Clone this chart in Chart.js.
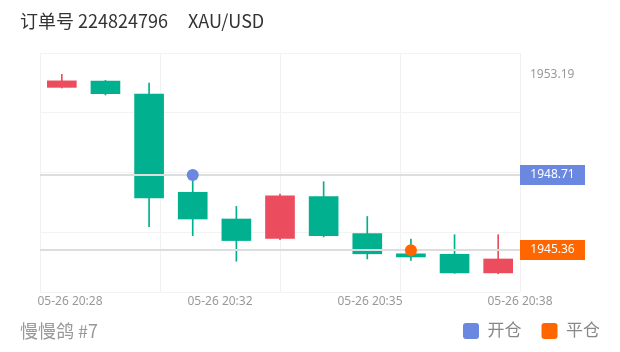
<!DOCTYPE html>
<html>
<head>
<meta charset="utf-8">
<script src="https://cdn.jsdelivr.net/npm/chart.js@4.4.1/dist/chart.umd.min.js"></script>
<style>
    html, body { margin: 0; padding: 0; background: #fff; }
    #wrap { position: relative; width: 620px; height: 352px; }
    #title { position: absolute; left: 20px; top: 7px; font: 18px "Noto Sans CJK SC", sans-serif; color: #333; }
    #title span { margin-left: 20px; }
    #foot { position: absolute; left: 20px; top: 317px; font: 18px "Noto Sans CJK SC", sans-serif; color: #999; }
</style>
</head>
<body>
<div id="wrap">
    <canvas id="chart" width="620" height="352"></canvas>
    <div id="title">订单号 224824796<span>XAU/USD</span></div>
    <div id="foot">慢慢鸽 #7</div>
</div>
<script>
// candles, one per minute
const categories = ['20:28', '20:29', '20:30', '20:31', '20:32', '20:33', '20:34', '20:35', '20:36', '20:37', '20:38'];
const opens  = [1952.61, 1952.89, 1952.31, 1947.94, 1946.75, 1945.89, 1947.75, 1946.10, 1945.20, 1945.18, 1944.35];
const closes = [1952.90, 1952.33, 1947.69, 1946.75, 1945.79, 1947.78, 1946.01, 1945.20, 1945.06, 1944.35, 1944.97];
const highs  = [1953.19, 1952.92, 1952.80, 1948.62, 1947.31, 1947.86, 1948.41, 1946.86, 1945.86, 1946.05, 1946.05];
const lows   = [1952.58, 1952.27, 1946.41, 1946.01, 1944.87, 1945.83, 1945.95, 1944.97, 1944.91, 1944.33, 1944.31];

// trade marks
const openIndex = 3;
const openPrice = 1948.71;
const closeIndex = 8;
const closePrice = 1945.36;

// axes
const xTickLabels = ['05-26 20:28', '05-26 20:32', '05-26 20:35', '05-26 20:38'];
const yGridValues = [1943.50, 1946.16, 1948.82, 1951.48, 1954.14];
const yLabelValues = [1953.19, 1948.82];

const UP = '#ec4d5e';
const DOWN = '#00b08e';
const BLUE = '#6a88e0';
const ORANGE = '#ff6600';
const FONT = '"Noto Sans", "Noto Sans CJK SC", sans-serif';

const candleColor = (ctx) => closes[ctx.dataIndex] >= opens[ctx.dataIndex] ? UP : DOWN;

function markSeries(index, price) {
    return categories.map((c, i) => i === index ? price : null);
}

// x grid every quarter of the range, labels spread from first candle to the right edge
const n = categories.length;
const xGridPos = [0, 1, 2, 3, 4].map(k => k * n / 4);
const xLabelPos = xTickLabels.map((t, k) => 0.6875 + k * (n - 0.6875) / (xTickLabels.length - 1));

const marks = {
    id: 'marks',
    afterLayout(chart) {
        // let the time labels spill below their thin box instead of being clipped
        chart.scales.x2.bottom += 12;
    },
    afterDatasetDraw(chart, args) {
        if (args.index !== 1) return;
        const { ctx, chartArea, scales: { y } } = chart;
        ctx.save();
        ctx.strokeStyle = '#dddddd';
        ctx.lineWidth = 2;
        [openPrice, closePrice].forEach(v => {
            const py = Math.round(y.getPixelForValue(v));
            ctx.beginPath();
            ctx.moveTo(chartArea.left, py);
            ctx.lineTo(chartArea.right, py);
            ctx.stroke();
        });
        ctx.restore();
    },
    afterDraw(chart) {
        const { ctx, chartArea, scales: { y } } = chart;
        ctx.save();
        ctx.font = '12px ' + FONT;
        ctx.textAlign = 'center';
        ctx.textBaseline = 'middle';
        [[openPrice, BLUE], [closePrice, ORANGE]].forEach(([v, color]) => {
            const py = Math.round(y.getPixelForValue(v));
            ctx.fillStyle = color;
            ctx.fillRect(chartArea.right, py - 10, 65, 20);
            ctx.fillStyle = '#fff';
            ctx.fillText(v.toFixed(2), chartArea.right + 32.5, py);
        });
        ctx.restore();
    }
};

new Chart(document.getElementById('chart'), {
    type: 'bar',
    data: {
        labels: categories,
        datasets: [
            {
                label: 'wick',
                data: lows.map((l, i) => [l, highs[i]]),
                backgroundColor: candleColor,
                barThickness: 1,
                grouped: false,
                order: 3
            },
            {
                label: 'body',
                data: opens.map((o, i) => [o, closes[i]]),
                backgroundColor: candleColor,
                barThickness: 29,
                grouped: false,
                order: 2
            },
            {
                type: 'line',
                label: '开仓',
                data: markSeries(openIndex, openPrice),
                showLine: false,
                backgroundColor: BLUE,
                borderColor: BLUE,
                borderWidth: 0,
                pointRadius: 6,
                pointHoverRadius: 6,
                order: 1
            },
            {
                type: 'line',
                label: '平仓',
                data: markSeries(closeIndex, closePrice),
                showLine: false,
                backgroundColor: ORANGE,
                borderColor: ORANGE,
                borderWidth: 0,
                pointRadius: 6,
                pointHoverRadius: 6,
                order: 1
            }
        ]
    },
    options: {
        responsive: false,
        animation: false,
        layout: { padding: { left: 40, right: 0, top: 53, bottom: 2.5 } },
        plugins: {
            tooltip: { enabled: false },
            legend: {
                position: 'bottom',
                align: 'end',
                labels: {
                    boxWidth: 16,
                    boxHeight: 16,
                    padding: 20,
                    color: '#888',
                    font: { size: 17, family: FONT },
                    useBorderRadius: true,
                    borderRadius: 3,
                    filter: item => item.datasetIndex >= 2
                }
            }
        },
        scales: {
            x: { display: false },
            x2: {
                type: 'linear',
                position: 'bottom',
                min: 0,
                max: n,
                offset: false,
                afterBuildTicks: scale => {
                    const vals = [...new Set([...xGridPos, ...xLabelPos])].sort((a, b) => a - b);
                    scale.ticks = vals.map(v => ({ value: v }));
                },
                afterFit: scale => { scale.height = 10.5; },
                grid: {
                    offset: false,
                    color: ctx => ctx.tick && xGridPos.some(p => Math.abs(p - ctx.tick.value) < 1e-6) ? '#f1f1f1' : 'transparent',
                    drawTicks: false
                },
                border: { display: false },
                ticks: {
                    autoSkip: false,
                    maxRotation: 0,
                    padding: 2,
                    color: '#999',
                    font: { size: 12, family: FONT },
                    callback: value => {
                        const k = xLabelPos.findIndex(p => Math.abs(p - value) < 1e-6);
                        return k >= 0 ? xTickLabels[k] : '';
                    }
                }
            },
            y: {
                position: 'right',
                min: yGridValues[0],
                max: yGridValues[yGridValues.length - 1],
                afterBuildTicks: scale => {
                    scale.ticks = [...yGridValues, yLabelValues[0]].sort((a, b) => a - b).map(v => ({ value: v }));
                },
                afterFit: scale => { scale.width = 100; },
                grid: {
                    color: ctx => ctx.tick && yGridValues.includes(ctx.tick.value) ? '#f3f3f3' : 'transparent',
                    drawTicks: false
                },
                border: { display: false },
                ticks: {
                    padding: 10,
                    color: '#999',
                    font: { size: 12, family: FONT },
                    callback: value => yLabelValues.includes(value) ? value.toFixed(2) : ''
                }
            }
        }
    },
    plugins: [marks]
});
</script>
</body>
</html>
